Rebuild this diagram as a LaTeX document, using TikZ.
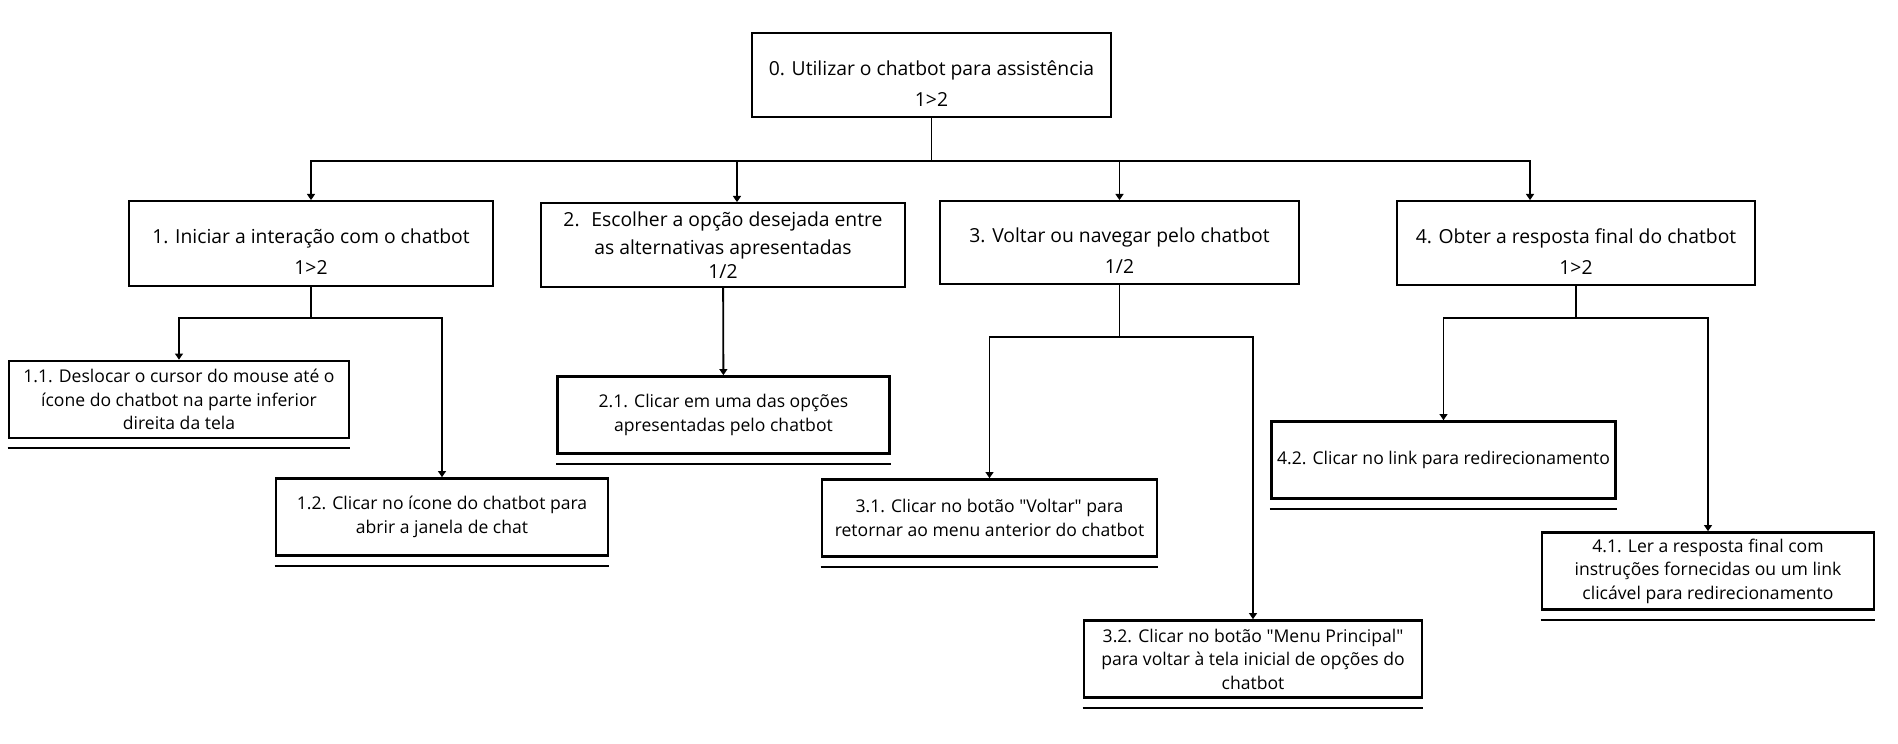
\documentclass[tikz,border=0pt]{standalone}
\usepackage{fontspec}
\setmainfont{Open Sans}
\usetikzlibrary{arrows.meta}
\newcommand{\upgap}{\rule{0pt}{18pt}}

\begin{document}
\begin{tikzpicture}[>={Triangle[width=4.5pt,length=3.5pt]},x=0.02cm,y=-0.02cm,
  topbox/.style={draw,line width=1pt,align=center,font=\fontsize{11}{17.6}\selectfont,minimum width=7.18cm,minimum height=1.68cm},
  leafbox/.style={draw,line width=1.5pt,align=center,font=\fontsize{10}{13.4}\selectfont,minimum width=6.64cm,minimum height=1.54cm},
  uline/.style={line width=1.3pt},
  link/.style={line width=1.05pt}]
      \useasboundingbox (0,0) rectangle (1898,744);
      % goal and subtasks
      \node[topbox] (root) at (931.5,75) {\upgap 0. Utilizar o chatbot para assistência\\1>2};
      \node[topbox,minimum width=7.28cm,minimum height=1.7cm] (n1) at (311,243.5) {\upgap 1. Iniciar a interação com o chatbot\\1>2};
      \node[topbox,minimum width=7.28cm,font=\fontsize{11}{15.8}\selectfont] (n2) at (723,245) {2.~ Escolher a opção desejada entre\\as alternativas apresentadas\\[-2.2pt]1/2};
      \node[topbox,minimum height=1.66cm] (n3) at (1119.5,242.5) {\upgap 3. Voltar ou navegar pelo chatbot\\1/2};
      \node[topbox,minimum width=7.16cm] (n4) at (1576,243) {\upgap 4. Obter a resposta final do chatbot\\1>2};
      % operations
      \node[leafbox,minimum width=6.8cm] (n11) at (179,399.5) {1.1. Deslocar o cursor do mouse até o\\ícone do chatbot na parte inferior\\direita da tela};
      \node[leafbox] (n12) at (442,517) {1.2. Clicar no ícone do chatbot para\\abrir a janela de chat};
      \node[leafbox] (n21) at (723.5,415) {2.1. Clicar em uma das opções\\apresentadas pelo chatbot};
      \node[leafbox,minimum width=6.7cm] (n31) at (989.5,518) {3.1. Clicar no botão \textquotedbl Voltar\textquotedbl{} para\\retornar ao menu anterior do chatbot};
      \node[leafbox,minimum width=6.76cm] (n32) at (1253,659) {3.2. Clicar no botão \textquotedbl Menu Principal\textquotedbl\\para voltar à tela inicial de opções do\\chatbot};
      \node[leafbox] (n41) at (1708,571) {4.1. Ler a resposta final com\\instruções fornecidas ou um link\\clicável para redirecionamento};
      \node[leafbox,minimum width=6.66cm] (n42) at (1443.5,460) {4.2. Clicar no link para redirecionamento};
      \foreach \n in {n11,n12,n21,n31,n32,n41,n42}
      \draw[uline] ([yshift=-0.18cm]\n.south west) -- ([yshift=-0.18cm]\n.south east);
      % connectors
      \coordinate (j0) at (931.5,161);
      \draw[link] (root) -- (j0);
      \foreach \n/\dx in {n1/0,n2/0.28,n3/0,n4/-0.92}
      \draw[link,->] (j0) -| ([xshift=\dx cm]\n.north);
      \coordinate (j1) at (311,318);
      \draw[link] (n1) -- (j1);
      \foreach \n in {n11,n12}
      \draw[link,->] (j1) -| (\n.north);
      \draw[link,->] (n2) -- (n21);
      \coordinate (j3) at (1119.5,337);
      \draw[link] (n3) -- (j3);
      \foreach \n in {n31,n32}
      \draw[link,->] (j3) -| (\n.north);
      \coordinate (j4) at (1576,318);
      \draw[link] (n4) -- (j4);
      \foreach \n in {n41,n42}
      \draw[link,->] (j4) -| (\n.north);
\end{tikzpicture}
\end{document}
